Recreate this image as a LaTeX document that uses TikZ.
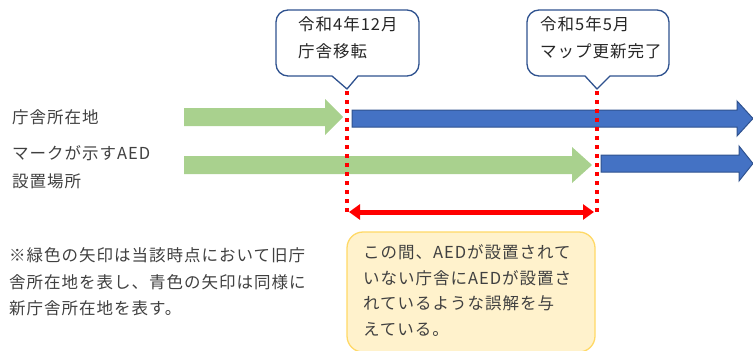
\documentclass[tikz,border=0pt]{standalone}
\usepackage{fontspec}
\setmainfont{Noto Sans CJK JP}[LetterSpace=6]
\usetikzlibrary{arrows.meta}
\definecolor{grn}{HTML}{A9D18E}
\definecolor{blu}{HTML}{4472C4}
\definecolor{bluedge}{HTML}{2F528F}
\definecolor{ylw}{HTML}{FFF2CC}
\definecolor{ylwedge}{HTML}{FFD966}
\definecolor{txt}{HTML}{404040}
\tikzset{
  lbl/.style={anchor=west,inner sep=0pt,text=txt,font=\fontsize{16.5}{19}\selectfont},
  ctxt/.style={anchor=west,inner sep=0pt,text=black!85,font=\fontsize{16.5}{19}\selectfont},
  callout/.style={draw=bluedge,line width=1.3pt,fill=white,line join=round},
  grnarrow/.style={fill=grn},
  bluarrow/.style={fill=blu,draw=bluedge,line width=1pt},
  reddot/.style={draw=red,line width=4pt,dash pattern=on 4pt off 5pt},
  span/.style={draw=red,line width=5pt,{Triangle[length=11pt,width=15pt]}-{Triangle[length=11pt,width=15pt]}},
  notebox/.style={fill=ylw,draw=ylwedge,line width=1.3pt,rounded corners=16pt}
}
\begin{document}
\begin{tikzpicture}[x=1pt,y=-1pt]
\useasboundingbox (0,0) rectangle (753,351);
% callouts
\draw[callout] (358,76) -- (347,89) -- (332,76) [rounded corners=12pt] -- (276,76) -- (276,10) -- (419,10) -- (419,76) [sharp corners] -- cycle;
\draw[callout] (610,76) -- (597,89) -- (585,76) [rounded corners=12pt] -- (527,76) -- (527,10) -- (669,10) -- (669,76) [sharp corners] -- cycle;
\coordinate (tip1) at (347,91);
\coordinate (tip2) at (597,91);
\coordinate (bot1) at (347,212);
\coordinate (bot2) at (597,212);
\node[ctxt] (c1a) at (298,24) {令和4年12月};
\node[ctxt] (c1b) at (298,51) {庁舎移転};
\node[ctxt] (c2a) at (540,24) {令和5年5月};
\node[ctxt] (c2b) at (540,51) {マップ更新完了};
% arrows row 1
\fill[grnarrow] (184,108) -- (325,108) -- (325,99) -- (343,117) -- (325,135) -- (325,126) -- (184,126) -- cycle;
\draw[bluarrow] (352,110) -- (737,110) -- (737,101) -- (753,118.5) -- (737,136) -- (737,127) -- (352,127) -- cycle;
% arrows row 2
\fill[grnarrow] (184,156) -- (572,156) -- (572,147) -- (592,165) -- (572,183) -- (572,174) -- (184,174) -- cycle;
\draw[bluarrow] (601,155) -- (739,155) -- (739,146) -- (753,163.5) -- (739,181) -- (739,172) -- (601,172) -- cycle;
% dotted lines
\draw[reddot] (tip1) -- (bot1);
\draw[reddot] (tip2) -- (bot2);
% span arrow
\coordinate (sl) at (349,212);
\coordinate (sr) at (594,212);
\draw[span] (sl) -- (sr);
% labels
\node[lbl] (l1) at (12,117) {庁舎所在地};
\node[lbl] (l2) at (12,153) {マークが示すAED};
\node[lbl] (l3) at (12,181) {設置場所};
\node[lbl] (n1) at (9,255) {※緑色の矢印は当該時点において旧庁};
\node[lbl] (n2) at (9,282) {舎所在地を表し、青色の矢印は同様に};
\node[lbl] (n3) at (9,308) {新庁舎所在地を表す。};
% note box
\draw[notebox] (347,232) rectangle (595,352);
\node[lbl] (y1) at (363,252) {この間、AEDが設置されて};
\node[lbl] (y2) at (363,278) {いない庁舎にAEDが設置さ};
\node[lbl] (y3) at (363,303) {れているような誤解を与};
\node[lbl] (y4) at (363,329) {えている。};
\end{tikzpicture}
\end{document}
